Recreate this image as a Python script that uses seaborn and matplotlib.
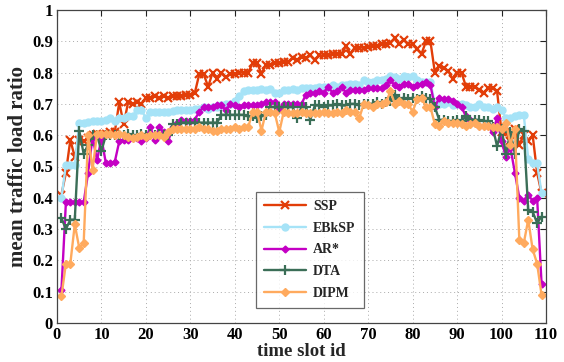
import numpy as np
import pandas as pd
import seaborn as sns
import matplotlib
matplotlib.use("Agg")
import matplotlib.pyplot as plt

time_slots = list(range(1, 110))

ssp = [0.41, 0.48, 0.585, 0.53, 0.585, 0.58, 0.59, 0.60, 0.605, 0.60,
       0.605, 0.61, 0.61, 0.705, 0.635, 0.705, 0.70, 0.705, 0.70, 0.72,
       0.72, 0.725, 0.72, 0.725, 0.72, 0.725, 0.725, 0.725, 0.73, 0.73,
       0.735, 0.795, 0.795, 0.755, 0.80, 0.78, 0.80, 0.785, 0.795, 0.795,
       0.80, 0.80, 0.80, 0.83, 0.83, 0.797, 0.825, 0.825, 0.83, 0.83,
       0.835, 0.835, 0.846, 0.84, 0.85, 0.846, 0.855, 0.84, 0.855, 0.855,
       0.855, 0.858, 0.858, 0.86, 0.885, 0.86, 0.88, 0.88, 0.88, 0.882,
       0.885, 0.885, 0.89, 0.89, 0.895, 0.91, 0.89, 0.905, 0.89, 0.89,
       0.875, 0.86, 0.90, 0.90, 0.80, 0.82, 0.815, 0.805, 0.78, 0.80,
       0.80, 0.755, 0.755, 0.755, 0.745, 0.735, 0.75, 0.75, 0.74, 0.61,
       0.61, 0.58, 0.62, 0.57, 0.60, 0.58, 0.60, 0.48, 0.415]

ebksp = [0.40, 0.505, 0.505, 0.505, 0.64, 0.64, 0.643, 0.645, 0.645, 0.645,
         0.65, 0.655, 0.645, 0.655, 0.655, 0.66, 0.66, 0.68, 0.68, 0.655,
         0.675, 0.675, 0.675, 0.675, 0.675, 0.678, 0.68, 0.68, 0.68, 0.68,
         0.685, 0.685, 0.69, 0.685, 0.69, 0.69, 0.695, 0.70, 0.70, 0.71,
         0.725, 0.74, 0.745, 0.745, 0.745, 0.748, 0.745, 0.748, 0.735, 0.735,
         0.745, 0.745, 0.748, 0.745, 0.75, 0.75, 0.75, 0.75, 0.755, 0.755,
         0.755, 0.76, 0.755, 0.76, 0.76, 0.765, 0.765, 0.76, 0.775, 0.77,
         0.77, 0.775, 0.775, 0.78, 0.79, 0.785, 0.78, 0.79, 0.785, 0.79,
         0.775, 0.77, 0.77, 0.77, 0.70, 0.70, 0.70, 0.705, 0.695, 0.70,
         0.70, 0.695, 0.69, 0.69, 0.70, 0.69, 0.69, 0.685, 0.69, 0.68,
         0.655, 0.655, 0.66, 0.665, 0.665, 0.525, 0.51, 0.51, 0.415]

ar_star = [0.105, 0.385, 0.385, 0.385, 0.385, 0.385, 0.48, 0.595, 0.52, 0.59,
           0.51, 0.51, 0.515, 0.58, 0.585, 0.585, 0.59, 0.59, 0.58, 0.59,
           0.625, 0.585, 0.625, 0.61, 0.58, 0.625, 0.64, 0.65, 0.645, 0.645,
           0.65, 0.675, 0.69, 0.69, 0.69, 0.695, 0.695, 0.68, 0.70, 0.695,
           0.69, 0.695, 0.695, 0.695, 0.695, 0.70, 0.705, 0.705, 0.705, 0.685,
           0.70, 0.70, 0.70, 0.70, 0.70, 0.73, 0.735, 0.735, 0.74, 0.735,
           0.755, 0.735, 0.74, 0.755, 0.735, 0.745, 0.745, 0.745, 0.745, 0.75,
           0.75, 0.75, 0.75, 0.76, 0.775, 0.76, 0.755, 0.765, 0.765, 0.755,
           0.76, 0.765, 0.77, 0.76, 0.69, 0.72, 0.715, 0.715, 0.71, 0.70,
           0.69, 0.66, 0.65, 0.64, 0.63, 0.63, 0.63, 0.61, 0.655, 0.58,
           0.53, 0.56, 0.48, 0.40, 0.39, 0.41, 0.39, 0.40, 0.125]

dta = [0.335, 0.30, 0.33, 0.33, 0.615, 0.54, 0.57, 0.60, 0.60, 0.55,
       0.60, 0.60, 0.60, 0.60, 0.60, 0.605, 0.60, 0.60, 0.605, 0.60,
       0.605, 0.60, 0.605, 0.60, 0.60, 0.635, 0.635, 0.64, 0.64, 0.64,
       0.64, 0.64, 0.64, 0.64, 0.64, 0.64, 0.665, 0.665, 0.665, 0.665,
       0.665, 0.665, 0.66, 0.66, 0.655, 0.66, 0.665, 0.69, 0.69, 0.69,
       0.69, 0.69, 0.69, 0.655, 0.69, 0.69, 0.65, 0.695, 0.695, 0.69,
       0.695, 0.695, 0.70, 0.695, 0.695, 0.70, 0.70, 0.695, 0.70, 0.70,
       0.70, 0.705, 0.70, 0.705, 0.71, 0.728, 0.715, 0.72, 0.715, 0.72,
       0.715, 0.725, 0.72, 0.715, 0.69, 0.648, 0.65, 0.645, 0.645, 0.65,
       0.645, 0.66, 0.65, 0.65, 0.648, 0.645, 0.645, 0.625, 0.565, 0.62,
       0.54, 0.61, 0.54, 0.62, 0.615, 0.36, 0.355, 0.32, 0.34]

dipm = [0.085, 0.19, 0.19, 0.315, 0.24, 0.255, 0.60, 0.49, 0.605, 0.605,
        0.605, 0.605, 0.60, 0.605, 0.60, 0.595, 0.59, 0.595, 0.60, 0.595,
        0.60, 0.60, 0.60, 0.595, 0.61, 0.62, 0.62, 0.62, 0.62, 0.62,
        0.62, 0.625, 0.62, 0.62, 0.615, 0.615, 0.62, 0.62, 0.62, 0.625,
        0.62, 0.625, 0.625, 0.675, 0.675, 0.615, 0.675, 0.675, 0.67, 0.61,
        0.675, 0.67, 0.67, 0.67, 0.675, 0.67, 0.67, 0.67, 0.67, 0.675,
        0.67, 0.67, 0.675, 0.67, 0.68, 0.675, 0.675, 0.655, 0.70, 0.695,
        0.69, 0.70, 0.70, 0.705, 0.74, 0.70, 0.71, 0.70, 0.70, 0.675,
        0.715, 0.72, 0.69, 0.69, 0.635, 0.63, 0.645, 0.64, 0.64, 0.64,
        0.635, 0.63, 0.635, 0.64, 0.63, 0.63, 0.63, 0.625, 0.625, 0.62,
        0.64, 0.57, 0.62, 0.265, 0.255, 0.33, 0.235, 0.19, 0.09]

series_names = ["SSP", "EBkSP", "AR*", "DTA", "DIPM"]
series_values = [ssp, ebksp, ar_star, dta, dipm]

x_ticks = list(range(0, 111, 10))
y_ticks = [0, 0.1, 0.2, 0.3, 0.4, 0.5, 0.6, 0.7, 0.8, 0.9, 1]
y_ticklabels = ["0", "0.1", "0.2", "0.3", "0.4", "0.5", "0.6", "0.7", "0.8", "0.9", "1"]

styles = {
    "SSP":   dict(color="#E23D08", marker="x", markersize=6, markeredgewidth=1.6),
    "EBkSP": dict(color="#A6E3F7", marker="o", markersize=5, markeredgewidth=1.0),
    "AR*":   dict(color="#C400C4", marker="D", markersize=3.5, markeredgewidth=1.0),
    "DTA":   dict(color="#3B6E57", marker="+", markersize=7.5, markeredgewidth=1.6),
    "DIPM":  dict(color="#FFAA5E", marker="D", markersize=4.5, markeredgewidth=1.0),
}

frames = []
for name, vals in zip(series_names, series_values):
    frames.append(pd.DataFrame({"slot": time_slots, "ratio": vals, "alg": name}))
df = pd.concat(frames, ignore_index=True)

sns.set_theme(style="white")
plt.rcParams["font.family"] = ["Liberation Serif", "DejaVu Serif"]
plt.rcParams["font.weight"] = "bold"

fig = plt.figure(figsize=(5.64, 3.62), dpi=100)
ax = fig.add_axes([57 / 564, 1 - 323 / 362, (546 - 57) / 564, (323 - 10) / 362])

for name in series_names:
    st = styles[name]
    sub = df[df["alg"] == name]
    sns.lineplot(data=sub, x="slot", y="ratio", ax=ax, label=name,
                 color=st["color"], marker=st["marker"],
                 markersize=st["markersize"], markeredgewidth=st["markeredgewidth"],
                 markeredgecolor=st["color"], markerfacecolor=st["color"],
                 linewidth=1.7, errorbar=None)

ax.set_xlim(0, 110)
ax.set_ylim(0, 1)
ax.set_xticks(x_ticks)
ax.set_yticks(y_ticks)
ax.set_yticklabels(y_ticklabels)
ax.grid(True, linestyle=(0, (1, 3)), color="#aaaaaa", linewidth=0.7)
ax.tick_params(direction="in", top=True, right=True, length=4, width=0.8,
               labelsize=12, colors="#222222", pad=3)
for lab in ax.get_xticklabels() + ax.get_yticklabels():
    lab.set_fontweight("bold")
    lab.set_color("black")
for sp in ax.spines.values():
    sp.set_color("#444444")
    sp.set_linewidth(0.9)

ax.set_xlabel("time slot id", fontsize=13.5, fontweight="bold", labelpad=0)
ax.set_ylabel("mean traffic load ratio", fontsize=15, fontweight="bold", labelpad=3)

leg = ax.legend(loc="lower left", bbox_to_anchor=(0.407, 0.048), frameon=True,
                fancybox=False, edgecolor="#444444", fontsize=10,
                handlelength=3.0, labelspacing=0.62, borderpad=0.6,
                handletextpad=0.5, borderaxespad=0)
leg.get_frame().set_linewidth(0.9)
for t in leg.get_texts():
    t.set_fontweight("bold")

fig.savefig("out.png", dpi=100)
